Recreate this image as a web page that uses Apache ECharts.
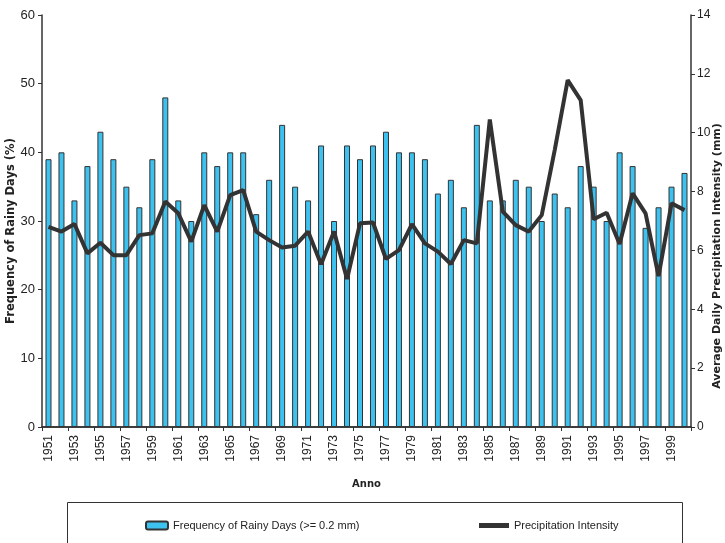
<!DOCTYPE html>
<html>
<head>
<meta charset="utf-8">
<script src="https://cdn.jsdelivr.net/npm/echarts@6/dist/echarts.min.js"></script>
<style>html,body{margin:0;padding:0;background:#fff}#c{width:725px;height:543px}</style>
</head>
<body>
<div id="c"></div>
<script>
const years = [];
for (let y = 1951; y <= 2000; y++) years.push(String(y));
const rainyDays = [39,40,33,38,43,39,35,32,39,48,33,30,40,38,40,40,31,36,44,35,33,41,30,41,39,41,43,40,40,39,34,36,32,44,33,33,36,35,30,34,32,38,35,30,40,38,29,32,35,37];
const intensity = [6.8,6.64,6.9,5.9,6.26,5.84,5.84,6.52,6.58,7.66,7.26,6.3,7.54,6.64,7.88,8.05,6.64,6.35,6.1,6.16,6.64,5.53,6.64,5.03,6.92,6.95,5.71,6.01,6.89,6.24,5.96,5.54,6.35,6.24,10.45,7.32,6.86,6.64,7.2,9.41,11.79,11.11,7.06,7.28,6.22,7.94,7.26,5.13,7.6,7.37];
const leftTicks = [0,10,20,30,40,50,60];
const rightTicks = [0,2,4,6,8,10,12,14];

const FONT = "'Liberation Sans Narrow', 'Liberation Sans', Arial, sans-serif";
const TITLE_FONT = "'DejaVu Sans', sans-serif";
const chart = echarts.init(document.getElementById('c'));
chart.setOption({
  animation: false,
  textStyle: { fontFamily: FONT },
  grid: { left: 42, right: 34, top: 15, bottom: 116, containLabel: false, outerBoundsMode: 'none' },
  legend: [
    { data: ['Frequency of Rainy Days (>= 0.2 mm)'], left: 140, top: 515, itemWidth: 22, itemHeight: 8, itemGap: 2,
      textStyle: { fontFamily: FONT, fontSize: 11, color: '#222' } },
    { data: [{ name: 'Precipitation Intensity', icon: 'rect' }], left: 474, top: 515, itemWidth: 30, itemHeight: 5,
      textStyle: { fontFamily: FONT, fontSize: 11, color: '#222' } }
  ],
  graphic: [{
    type: 'rect', left: 65, top: 500, shape: { width: 615, height: 60 },
    style: { fill: 'none', stroke: '#333', lineWidth: 1 }
  }],
  xAxis: [{
    type: 'category', data: years, boundaryGap: true,
    name: 'Anno', nameLocation: 'middle', nameGap: 52, nameMoveOverlap: false,
    nameTextStyle: { fontFamily: TITLE_FONT, fontWeight: 'bold', fontSize: 10, color: '#222' },
    axisLine: { lineStyle: { color: '#333', width: 1.5 } },
    axisTick: { show: true, length: 4, lineStyle: { color: '#333' } },
    axisLabel: { interval: 1, rotate: 90, fontSize: 12, color: '#222', margin: 8 }
  }, {
    type: 'category', data: years, position: 'top',
    axisLine: { show: true, lineStyle: { color: '#333', width: 1.5 } },
    axisTick: { show: false }, axisLabel: { show: false }
  }],
  yAxis: [{
    type: 'value', min: leftTicks[0], max: leftTicks[leftTicks.length - 1], interval: 10,
    name: 'Frequency of Rainy Days (%)', nameLocation: 'middle', nameGap: 25, nameRotate: 90, nameMoveOverlap: false,
    nameTextStyle: { fontFamily: TITLE_FONT, fontWeight: 'bold', fontSize: 11.5, color: '#222', padding: [0, 20, 0, 0] },
    axisLine: { show: true, lineStyle: { color: '#333', width: 1.5 } },
    axisTick: { show: true, length: 4, lineStyle: { color: '#333' } },
    axisLabel: { fontSize: 13, color: '#222', margin: 7 },
    splitLine: { show: false }
  }, {
    type: 'value', min: rightTicks[0], max: rightTicks[rightTicks.length - 1], interval: 2,
    name: 'Average Daily Precipitation Intensity (mm)', nameLocation: 'middle', nameGap: 21, nameRotate: 90, nameMoveOverlap: false,
    nameTextStyle: { fontFamily: TITLE_FONT, fontWeight: 'bold', fontSize: 11, color: '#222', padding: [0, 70, 0, 0] },
    axisLine: { show: true, lineStyle: { color: '#333', width: 1.5 } },
    axisTick: { show: true, length: 4, lineStyle: { color: '#333' } },
    axisLabel: { fontSize: 12, color: '#222', margin: 6 },
    splitLine: { show: false }
  }],
  series: [{
    name: 'Frequency of Rainy Days (>= 0.2 mm)', type: 'bar', data: rainyDays,
    xAxisIndex: 0, yAxisIndex: 0, barWidth: 6,
    itemStyle: { color: '#3dc1ef', borderColor: '#333', borderWidth: 1 }
  }, {
    name: 'Precipitation Intensity', type: 'line', data: intensity,
    xAxisIndex: 0, yAxisIndex: 1, showSymbol: false, symbol: 'none',
    lineStyle: { color: '#333', width: 4 }, itemStyle: { color: '#333' }
  }]
});
</script>
</body>
</html>
